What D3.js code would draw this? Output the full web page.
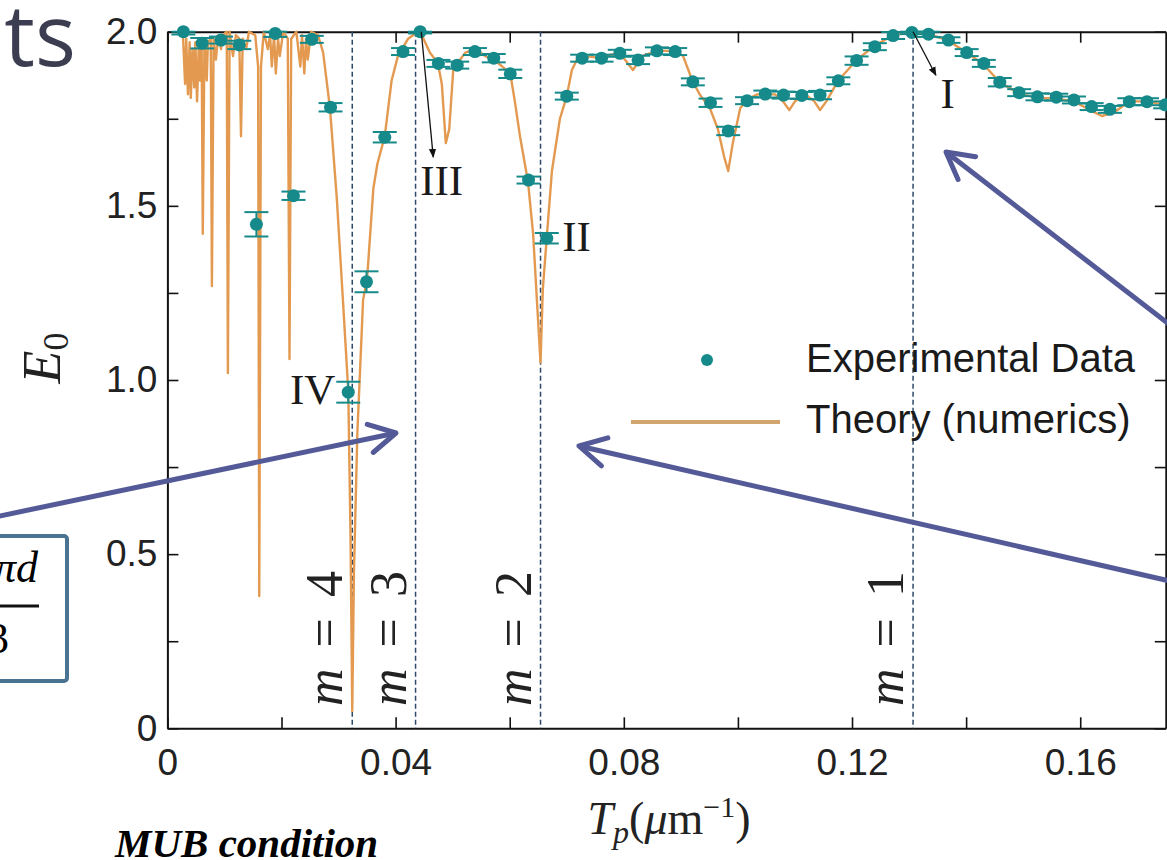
<!DOCTYPE html>
<html>
<head>
<meta charset="utf-8">
<script src="https://cdn.jsdelivr.net/npm/d3@7"></script>
<style>
  body { margin: 0; background: #fff; }
  svg { display: block; }
</style>
</head>
<body>
<script>
// Experimental data (T_p in 1/um, E_0, error)
const expT = [0.0028, 0.0061, 0.0094, 0.0126, 0.0156, 0.0189, 0.0221, 0.0253, 0.0286, 0.0317,
    0.0349, 0.0381, 0.0413, 0.0443, 0.0475, 0.0508, 0.0539, 0.0572, 0.0601, 0.0633,
    0.0665, 0.0700, 0.0727, 0.0761, 0.0793, 0.0825, 0.0858, 0.0890, 0.0921, 0.0952,
    0.0983, 0.1016, 0.1048, 0.1080, 0.1112, 0.1144, 0.1176, 0.1208, 0.1240, 0.1272,
    0.1305, 0.1334, 0.1369, 0.1401, 0.1431, 0.1459, 0.1493, 0.1525, 0.1558, 0.1589,
    0.1620, 0.1652, 0.1686, 0.1717, 0.1749];
const expE = [2.000, 1.967, 1.976, 1.962, 1.447, 1.995, 1.529, 1.978, 1.783, 0.965,
    1.282, 1.697, 1.943, 2.000, 1.909, 1.904, 1.943, 1.924, 1.879, 1.574,
    1.407, 1.815, 1.924, 1.924, 1.938, 1.919, 1.945, 1.943, 1.856, 1.796,
    1.715, 1.802, 1.821, 1.818, 1.817, 1.818, 1.859, 1.917, 1.957, 1.989,
    1.998, 1.993, 1.976, 1.940, 1.909, 1.855, 1.825, 1.813, 1.812, 1.804,
    1.785, 1.777, 1.799, 1.799, 1.790];
const expErr = [0.008, 0.015, 0.010, 0.012, 0.035, 0.010, 0.012, 0.010, 0.012, 0.030,
    0.030, 0.015, 0.010, 0.005, 0.010, 0.010, 0.010, 0.012, 0.012, 0.010,
    0.015, 0.010, 0.010, 0.010, 0.010, 0.012, 0.010, 0.010, 0.010, 0.012,
    0.012, 0.010, 0.010, 0.010, 0.010, 0.012, 0.010, 0.012, 0.010, 0.010,
    0.005, 0.008, 0.008, 0.010, 0.010, 0.012, 0.010, 0.010, 0.010, 0.010,
    0.010, 0.010, 0.010, 0.010, 0.010];

// Theory (numerics) curve
const theoryT = [0.0022, 0.0027, 0.0031, 0.0033, 0.0036, 0.0039, 0.0041, 0.0044, 0.0047, 0.0049,
    0.0052, 0.0055, 0.0057, 0.0060, 0.0062, 0.0065, 0.0069, 0.0071, 0.0076, 0.0078,
    0.0081, 0.0085, 0.0089, 0.0094, 0.0097, 0.0104, 0.0106, 0.0109, 0.0115, 0.0120,
    0.0126, 0.0129, 0.0132, 0.0138, 0.0143, 0.0154, 0.0159, 0.0161, 0.0164, 0.0169,
    0.0176, 0.0180, 0.0183, 0.0187, 0.0190, 0.0194, 0.0197, 0.0203, 0.0211, 0.0214,
    0.0217, 0.0226, 0.0233, 0.0236, 0.0240, 0.0243, 0.0246, 0.0252, 0.0264, 0.0273,
    0.0285, 0.0297, 0.0308, 0.0317, 0.0321, 0.0324, 0.0327, 0.0333, 0.0343, 0.0350,
    0.0361, 0.0368, 0.0381, 0.0393, 0.0404, 0.0422, 0.0439, 0.0446, 0.0460, 0.0474,
    0.0481, 0.0488, 0.0494, 0.0501, 0.0509, 0.0522, 0.0539, 0.0557, 0.0572, 0.0587,
    0.0601, 0.0609, 0.0618, 0.0632, 0.0641, 0.0648, 0.0654, 0.0658, 0.0665, 0.0674,
    0.0688, 0.0700, 0.0709, 0.0718, 0.0732, 0.0758, 0.0779, 0.0797, 0.0816, 0.0832,
    0.0858, 0.0890, 0.0904, 0.0920, 0.0933, 0.0951, 0.0965, 0.0976, 0.0983, 0.0991,
    0.1004, 0.1016, 0.1034, 0.1065, 0.1079, 0.1090, 0.1100, 0.1118, 0.1134, 0.1144,
    0.1155, 0.1176, 0.1209, 0.1240, 0.1272, 0.1305, 0.1335, 0.1368, 0.1401, 0.1431,
    0.1459, 0.1493, 0.1524, 0.1558, 0.1589, 0.1617, 0.1638, 0.1661, 0.1686, 0.1717,
    0.1750];
const theoryE = [2.00, 2.00, 1.85, 1.98, 1.82, 1.97, 1.81, 1.95, 1.84, 1.97,
    1.80, 1.96, 1.86, 1.97, 1.42, 1.98, 1.86, 1.97, 1.98, 1.27,
    1.98, 1.92, 1.99, 1.95, 1.99, 2.00, 1.02, 2.00, 1.93, 1.99,
    1.98, 1.70, 1.98, 1.95, 2.00, 1.99, 1.90, 0.38, 1.90, 2.00,
    1.95, 1.99, 1.90, 1.99, 1.88, 1.98, 1.93, 2.00, 1.98, 1.06,
    1.98, 2.00, 1.90, 1.99, 1.88, 1.98, 1.92, 2.00, 1.99, 1.94,
    1.78, 1.52, 1.22, 0.97, 0.55, 0.05, 0.45, 0.85, 1.23, 1.29,
    1.55, 1.62, 1.70, 1.86, 1.93, 1.98, 2.00, 1.99, 1.94, 1.91,
    1.85, 1.68, 1.72, 1.89, 1.91, 1.94, 1.95, 1.93, 1.92, 1.90,
    1.88, 1.80, 1.70, 1.57, 1.42, 1.22, 1.05, 1.26, 1.41, 1.60,
    1.75, 1.815, 1.89, 1.92, 1.93, 1.925, 1.935, 1.93, 1.89, 1.93,
    1.945, 1.945, 1.93, 1.86, 1.82, 1.78, 1.72, 1.64, 1.60, 1.68,
    1.78, 1.805, 1.82, 1.82, 1.80, 1.775, 1.80, 1.82, 1.80, 1.775,
    1.80, 1.86, 1.92, 1.96, 1.99, 2.00, 1.993, 1.975, 1.94, 1.905,
    1.855, 1.822, 1.81, 1.808, 1.80, 1.775, 1.758, 1.77, 1.80, 1.80,
    1.79];

// MUB condition lines
const mValues = [0.0324, 0.0435, 0.0654, 0.1307];
const mNames = ["4", "3", "2", "1"];

// Ticks
const xTicks = [0, 0.02, 0.04, 0.06, 0.08, 0.10, 0.12, 0.14, 0.16];
const xTickLabels = ["0", "", "0.04", "", "0.08", "", "0.12", "", "0.16"];
const yTicks = [0, 0.25, 0.5, 0.75, 1.0, 1.25, 1.5, 1.75, 2.0];
const yTickLabels = ["0", "", "0.5", "", "1.0", "", "1.5", "", "2.0"];

// Point annotations I..IV
const annNames = ["I", "II", "III", "IV"];

const width = 1167;
const height = 860;
const teal = "#168a8a";
const orange = "#e39a50";
const purple = "#545a97";
const serif = "'Liberation Serif', 'DejaVu Serif', serif";
const sans = "'Liberation Sans', Arial, sans-serif";

const svg = d3.select("body").append("svg")
    .attr("width", width)
    .attr("height", height);

const x = d3.scaleLinear().domain([0, 0.175]).range([167.4, 1165.8]);
const y = d3.scaleLinear().domain([0, 2]).range([728.3, 31.7]);

// Slide title fragment
svg.append("text")
    .attr("x", 76).attr("y", 66)
    .attr("text-anchor", "end")
    .style("font-family", "'Open Sans', 'Noto Sans', sans-serif")
    .style("font-size", "86px")
    .style("fill", "#3d3d52")
    .text("ts");

// Axes, ticks pointing inward on all four sides
function styleAxis(g) {
    g.select(".domain").attr("stroke", "#111").attr("stroke-width", 2);
    g.selectAll(".tick line").attr("stroke", "#111").attr("stroke-width", 1.6);
    g.selectAll(".tick text")
        .style("font-family", sans)
        .style("font-size", "37px")
        .style("fill", "#222");
}

svg.append("g")
    .attr("transform", `translate(0,${y(0)})`)
    .call(d3.axisBottom(x).tickValues(xTicks).tickSizeInner(-11).tickSizeOuter(0)
        .tickPadding(20).tickFormat((d, i) => xTickLabels[i]))
    .call(styleAxis);

svg.append("g")
    .attr("transform", `translate(0,${y(2)})`)
    .call(d3.axisTop(x).tickValues(xTicks).tickSizeInner(-11).tickSizeOuter(0).tickFormat(""))
    .call(styleAxis);

svg.append("g")
    .attr("transform", `translate(${x(0)},0)`)
    .call(d3.axisLeft(y).tickValues(yTicks).tickSizeInner(-11).tickSizeOuter(0)
        .tickPadding(10).tickFormat((d, i) => yTickLabels[i]))
    .call(styleAxis);

svg.append("g")
    .attr("transform", `translate(${x(0.175)},0)`)
    .call(d3.axisRight(y).tickValues(yTicks).tickSizeInner(-11).tickSizeOuter(0).tickFormat(""))
    .call(styleAxis);

// Dashed m lines
svg.selectAll(".mline")
    .data(mValues)
    .join("line")
    .classed("mline", true)
    .attr("x1", d => x(d)).attr("x2", d => x(d))
    .attr("y1", y(2)).attr("y2", y(0))
    .attr("stroke", "#2d4a6a")
    .attr("stroke-width", 1.5)
    .attr("stroke-dasharray", "5,3");

// m = n labels, rotated, sitting left of each line
const mLab = svg.selectAll(".mlab")
    .data(mValues)
    .join("text")
    .classed("mlab", true)
    .attr("transform", d => `translate(${x(d) - 10},706) rotate(-90)`)
    .attr("textLength", 135)
    .attr("lengthAdjust", "spacing")
    .style("font-family", serif)
    .style("font-size", "52px")
    .style("fill", "#222");
mLab.append("tspan").style("font-style", "italic").text("m");
mLab.append("tspan").text((d, i) => " = " + mNames[i]);

// Theory curve
const theory = theoryT.map((t, i) => ({t: t, e: theoryE[i]}));
svg.append("path")
    .datum(theory)
    .attr("fill", "none")
    .attr("stroke", orange)
    .attr("stroke-width", 2.4)
    .attr("stroke-linejoin", "round")
    .attr("d", d3.line().x(d => x(d.t)).y(d => y(d.e)));

// Experimental points with error bars
const points = expT.map((t, i) => ({t: t, e: expE[i], err: expErr[i]}));
const pg = svg.selectAll(".pt")
    .data(points)
    .join("g")
    .classed("pt", true)
    .attr("stroke", teal)
    .attr("stroke-width", 2);
pg.append("line")
    .attr("x1", d => x(d.t)).attr("x2", d => x(d.t))
    .attr("y1", d => y(d.e - d.err)).attr("y2", d => y(Math.min(2, d.e + d.err)));
pg.append("line")
    .attr("x1", d => x(d.t) - 12).attr("x2", d => x(d.t) + 12)
    .attr("y1", d => y(d.e - d.err)).attr("y2", d => y(d.e - d.err));
pg.append("line")
    .attr("x1", d => x(d.t) - 12).attr("x2", d => x(d.t) + 12)
    .attr("y1", d => y(Math.min(2, d.e + d.err))).attr("y2", d => y(Math.min(2, d.e + d.err)));
pg.append("circle")
    .attr("cx", d => x(d.t)).attr("cy", d => y(d.e))
    .attr("r", 6.5)
    .attr("fill", teal)
    .attr("stroke", "none");

// Black annotation arrows for III and I
svg.append("defs").append("marker")
    .attr("id", "blk")
    .attr("viewBox", "0 0 10 10")
    .attr("refX", 9).attr("refY", 5)
    .attr("markerWidth", 7).attr("markerHeight", 7)
    .attr("orient", "auto")
    .append("path").attr("d", "M0,1L10,5L0,9Z").attr("fill", "#111");

function blackArrow(t0, e0, t1, e1) {
    svg.append("line")
        .attr("x1", x(t0)).attr("y1", y(e0))
        .attr("x2", x(t1)).attr("y2", y(e1))
        .attr("stroke", "#111").attr("stroke-width", 1.3)
        .attr("marker-end", "url(#blk)");
}
blackArrow(0.0445, 2.0, 0.0466, 1.64);
blackArrow(0.1307, 2.0, 0.1347, 1.875);

// Roman numeral labels
const annT = [0.1355, 0.0692, 0.0443, 0.0215];
const annE = [1.78, 1.37, 1.53, 0.93];
svg.selectAll(".ann")
    .data(annNames)
    .join("text")
    .classed("ann", true)
    .attr("x", (d, i) => x(annT[i]))
    .attr("y", (d, i) => y(annE[i]))
    .style("font-family", serif)
    .style("font-size", "43px")
    .style("fill", "#1a1a1a")
    .text(d => d);

// Axis titles
const yt = svg.append("text")
    .attr("transform", "translate(60,358) rotate(-90)")
    .attr("text-anchor", "middle")
    .style("font-family", serif)
    .style("fill", "#222");
yt.append("tspan").style("font-style", "italic").style("font-size", "54px").text("E");
yt.append("tspan").attr("dy", 8).style("font-size", "36px").text("0");

const xt = svg.append("text")
    .attr("x", 669).attr("y", 834)
    .attr("text-anchor", "middle")
    .style("font-family", serif)
    .style("font-size", "46px")
    .style("fill", "#222");
xt.append("tspan").style("font-style", "italic").text("T");
xt.append("tspan").attr("dy", 9).style("font-style", "italic").style("font-size", "32px").text("p");
xt.append("tspan").attr("dy", -9).text("(");
xt.append("tspan").style("font-style", "italic").text("μ");
xt.append("tspan").text("m");
xt.append("tspan").attr("dy", -17).style("font-size", "30px").text("−1");
xt.append("tspan").attr("dy", 17).text(")");

// Legend
svg.append("circle").attr("cx", 707).attr("cy", 360).attr("r", 6).attr("fill", teal);
svg.append("line")
    .attr("x1", 631).attr("x2", 780).attr("y1", 422).attr("y2", 422)
    .attr("stroke", "#d2a46e").attr("stroke-width", 4);
svg.selectAll(".leg")
    .data(["Experimental Data", "Theory (numerics)"])
    .join("text")
    .classed("leg", true)
    .attr("x", 806)
    .attr("y", (d, i) => 372 + i * 61)
    .style("font-family", sans)
    .style("font-size", "40px")
    .style("fill", "#1a1a1a")
    .text(d => d);

// Slide overlay: purple pointer arrows
function purpleArrow(x1, y1, x2, y2) {
    const a = Math.atan2(y2 - y1, x2 - x1);
    const len = 30;
    const spread = 0.5;
    svg.append("line")
        .attr("x1", x1).attr("y1", y1).attr("x2", x2).attr("y2", y2)
        .attr("stroke", purple).attr("stroke-width", 5);
    svg.append("path")
        .attr("d", `M${x2 - len * Math.cos(a - spread)},${y2 - len * Math.sin(a - spread)}` +
            `L${x2},${y2}L${x2 - len * Math.cos(a + spread)},${y2 - len * Math.sin(a + spread)}`)
        .attr("fill", "none")
        .attr("stroke", purple).attr("stroke-width", 5)
        .attr("stroke-linecap", "round")
        .attr("stroke-linejoin", "round");
}
purpleArrow(-5, 517, 396, 433);
purpleArrow(1170, 581, 579, 446);
purpleArrow(1170, 325, 946, 152);

// Formula box at left edge
svg.append("rect")
    .attr("x", -20).attr("y", 536)
    .attr("width", 87).attr("height", 145)
    .attr("rx", 3)
    .attr("fill", "#fff")
    .attr("stroke", "#4a7391")
    .attr("stroke-width", 4);
svg.append("text")
    .attr("x", 38).attr("y", 582)
    .attr("text-anchor", "end")
    .style("font-family", serif)
    .style("font-style", "italic")
    .style("font-size", "44px")
    .text("πd");
svg.append("line")
    .attr("x1", -5).attr("x2", 39).attr("y1", 606).attr("y2", 606)
    .attr("stroke", "#111").attr("stroke-width", 3);
svg.append("text")
    .attr("x", 9).attr("y", 653)
    .attr("text-anchor", "end")
    .style("font-family", serif)
    .style("font-size", "44px")
    .text("3");

// Caption
svg.append("text")
    .attr("x", 115).attr("y", 857)
    .style("font-family", serif)
    .style("font-weight", "bold")
    .style("font-style", "italic")
    .style("font-size", "41px")
    .text("MUB condition");
</script>
</body>
</html>
